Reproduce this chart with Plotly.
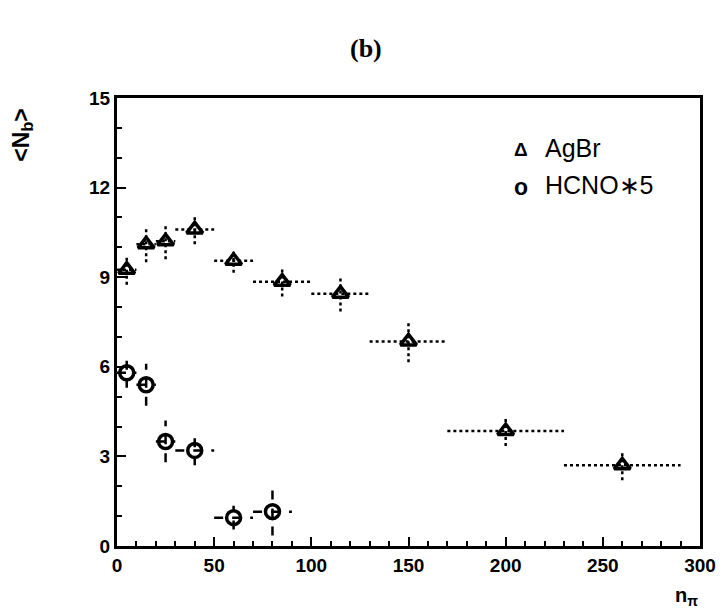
import plotly.graph_objects as go

# AgBr data
agbr_x = [5, 15, 25, 40, 60, 85, 115, 150, 200, 260]
agbr_y = [9.25, 10.1, 10.2, 10.6, 9.55, 8.85, 8.45, 6.85, 3.85, 2.7]
agbr_xerr = [5, 5, 5, 10, 10, 15, 15, 20, 30, 30]
agbr_yerr = [0.5, 0.6, 0.6, 0.5, 0.4, 0.5, 0.6, 0.7, 0.5, 0.5]

# HCNO*5 data
hcno_x = [5, 15, 25, 40, 60, 80]
hcno_y = [5.8, 5.4, 3.5, 3.2, 0.95, 1.15]
hcno_xerr = [5, 5, 5, 10, 10, 10]
hcno_yerr = [0.5, 0.7, 0.7, 0.5, 0.4, 0.8]

x_ticks = [0, 50, 100, 150, 200, 250, 300]
y_ticks = [0, 3, 6, 9, 12, 15]

fig = go.Figure()

def add_bars(xs, ys, xe, ye, dash, width):
    for x, y, dx, dy in zip(xs, ys, xe, ye):
        fig.add_trace(go.Scatter(x=[x - dx, x + dx], y=[y, y], mode="lines",
                                 line=dict(color="black", width=width, dash=dash),
                                 showlegend=False, hoverinfo="skip"))
        fig.add_trace(go.Scatter(x=[x, x], y=[y - dy, y + dy], mode="lines",
                                 line=dict(color="black", width=width, dash=dash),
                                 showlegend=False, hoverinfo="skip"))

add_bars(agbr_x, agbr_y, agbr_xerr, agbr_yerr, "dot", 2.5)
add_bars(hcno_x, hcno_y, hcno_xerr, hcno_yerr, "dash", 2.5)

fig.add_trace(go.Scatter(x=agbr_x, y=agbr_y, mode="markers", name="AgBr", showlegend=False,
                         marker=dict(symbol="triangle-up-open", size=14, color="black",
                                     line=dict(width=3.5, color="black"))))
fig.add_trace(go.Scatter(x=hcno_x, y=hcno_y, mode="markers", name="HCNO*5", showlegend=False,
                         marker=dict(symbol="circle-open", size=14, color="black",
                                     line=dict(width=3.5, color="black"))))

axis_font = dict(family="Liberation Sans, Arial", size=19, color="black")

L, R, T, B = 117, 18, 98, 65
W, H = 728, 611

fig.update_layout(
    width=W, height=H,
    margin=dict(l=L, r=R, t=T, b=B),
    plot_bgcolor="white", paper_bgcolor="white",
    showlegend=False,
)

fig.update_xaxes(range=[0, 300], tickvals=x_ticks, ticktext=["<b>%d</b>" % v for v in x_ticks],
                 ticks="inside", ticklen=9, tickwidth=2, tickcolor="black",
                 minor=dict(dtick=10, ticks="inside", ticklen=5, tickwidth=1.5, tickcolor="black"),
                 showline=True, linewidth=3, linecolor="black", mirror=True,
                 showgrid=False, zeroline=False, tickfont=axis_font)
fig.update_yaxes(range=[0, 15], tickvals=y_ticks, ticktext=["<b>%d</b>" % v for v in y_ticks],
                 ticks="inside", ticklen=9, tickwidth=2, tickcolor="black",
                 minor=dict(dtick=1, ticks="inside", ticklen=5, tickwidth=1.5, tickcolor="black"),
                 showline=True, linewidth=3, linecolor="black", mirror=True,
                 showgrid=False, zeroline=False, tickfont=axis_font)

def px(xp, yp):
    # convert page pixel position to paper coordinates
    return (xp - L) / (W - L - R), (H - B - yp) / (H - T - B)

ann_font = dict(family="Liberation Sans, Arial", size=25, color="black")

x0, y0 = px(370, 32)
fig.add_annotation(text="<b>(b)</b>", xref="paper", yref="paper", x=x0, y=y0,
                   showarrow=False, font=dict(family="Liberation Serif, Times New Roman", size=26, color="black"))
x0, y0 = px(20, 135)
fig.add_annotation(text="<b>&lt;N<sub>b</sub>&gt;</b>", xref="paper", yref="paper", x=x0, y=y0,
                   xanchor="center", yanchor="middle", textangle=-90, showarrow=False,
                   font=dict(family="Liberation Sans, Arial", size=23, color="black"))
x0, y0 = px(696, 596)
fig.add_annotation(text="<b>n<sub>π</sub></b>", xref="paper", yref="paper", x=x0, y=y0,
                   xanchor="center", yanchor="middle", showarrow=False,
                   font=dict(family="Liberation Sans, Arial", size=20, color="black"))

# legend drawn as text
x0, y0 = px(528, 149)
fig.add_annotation(text="<b>Δ</b>", xref="paper", yref="paper", x=x0, y=y0,
                   xanchor="center", yanchor="middle", showarrow=False,
                   font=dict(family="Liberation Sans, Arial", size=19, color="black"))
x0, y0 = px(550, 148)
fig.add_annotation(text="AgBr", xref="paper", yref="paper", x=x0, y=y0,
                   xanchor="left", yanchor="middle", showarrow=False, font=ann_font)
x0, y0 = px(528, 187)
fig.add_annotation(text="<b>o</b>", xref="paper", yref="paper", x=x0, y=y0,
                   xanchor="center", yanchor="middle", showarrow=False,
                   font=dict(family="Liberation Sans, Arial", size=23, color="black"))
x0, y0 = px(550, 185)
fig.add_annotation(text="HCNO∗5", xref="paper", yref="paper", x=x0, y=y0,
                   xanchor="left", yanchor="middle", showarrow=False, font=ann_font)

fig.write_html("out.html")
